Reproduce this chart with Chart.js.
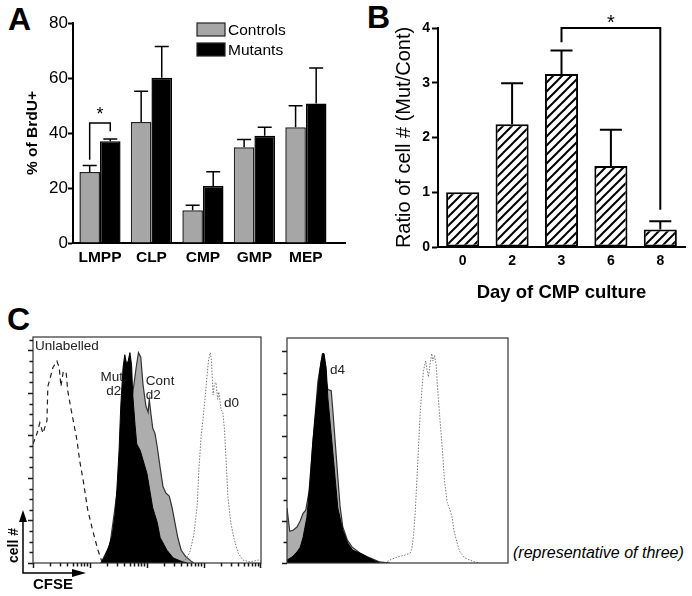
<!DOCTYPE html>
<html lang="en">
<head>
<meta charset="UTF-8">
<title>BrdU, CMP culture and CFSE</title>
<script src="https://cdn.jsdelivr.net/npm/chart.js@4.4.1/dist/chart.umd.min.js"></script>
<style>
  html, body { margin: 0; padding: 0; background: #fff; }
  body { width: 692px; height: 596px; position: relative; overflow: hidden;
         font-family: "Liberation Sans", Arial, Helvetica, sans-serif; color: #000; }
  canvas, .lbl { position: absolute; }
  .panel { font-size: 32px; line-height: 32px; font-weight: bold; }
  .note { font-size: 16px; line-height: 16px; font-style: italic; white-space: nowrap; }
</style>
</head>
<body>
<div class="lbl panel" style="left:8px;top:3px">A</div>
<div class="lbl panel" style="left:367px;top:1px">B</div>
<div class="lbl panel" style="left:7px;top:303px">C</div>
<div class="lbl note" style="left:513px;top:545px">(representative of three)</div>

<canvas id="chartA" width="350" height="280" style="left:0;top:0"></canvas>
<canvas id="chartB" width="342" height="310" style="left:350px;top:0"></canvas>
<canvas id="chartC1" width="268" height="266" style="left:0;top:330px"></canvas>
<canvas id="chartC2" width="236" height="240" style="left:280px;top:330px"></canvas>

<script>
// ---- A: % BrdU+ per progenitor population ----
const popLabels = ['LMPP', 'CLP', 'CMP', 'GMP', 'MEP'];
const brduControls = [25.8, 44.0, 11.9, 34.8, 42.1];
const brduControlsErr = [2.4, 11.2, 1.8, 2.8, 7.8];
const brduMutants = [37.0, 60.1, 20.7, 39.0, 50.7];
const brduMutantsErr = [0.8, 11.4, 5.2, 3.1, 12.9];
const brduTicks = [0, 20, 40, 60, 80];

// ---- B: Mut/Cont cell number ratio per culture day ----
const cultureDays = ['0', '2', '3', '6', '8'];
const cellRatio = [1.0, 2.24, 3.16, 1.48, 0.32];
const cellRatioErr = [0, 0.75, 0.43, 0.66, 0.15];

// ---- C: CFSE histograms, [log10 CFSE, % of max] ----
const unlabelled = [[0.00, 56], [0.07, 61], [0.12, 66], [0.175, 61], [0.245, 67], [0.26, 83], [0.30, 87],
  [0.35, 92], [0.42, 95], [0.46, 92], [0.49, 83], [0.53, 90], [0.58, 90], [0.61, 81], [0.67, 72],
  [0.72, 65], [0.77, 58], [0.82, 48], [0.88, 39], [0.96, 25], [1.05, 15], [1.14, 6], [1.21, 0.5], [1.30, 0]];
const mutD2 = [[1.19, 0], [1.25, 2.4], [1.32, 7], [1.39, 13], [1.44, 23], [1.47, 34], [1.51, 53], [1.54, 74],
  [1.58, 92], [1.61, 98], [1.64, 94], [1.67, 95], [1.70, 99], [1.73, 93], [1.75, 79], [1.79, 65], [1.82, 56],
  [1.88, 53], [1.93, 48.5], [2.00, 42], [2.05, 34], [2.10, 26], [2.18, 19], [2.23, 12], [2.35, 6], [2.46, 2.4],
  [2.58, 1], [2.70, 0]];
const contD2 = [[1.19, 0], [1.35, 8.5], [1.53, 44], [1.67, 67], [1.75, 80], [1.81, 92], [1.85, 99], [1.89, 97],
  [1.93, 84], [1.98, 74], [2.02, 71], [2.04, 77], [2.07, 70], [2.10, 63.5], [2.14, 61], [2.18, 54.6], [2.23, 45],
  [2.28, 36], [2.33, 33], [2.39, 31.5], [2.44, 26], [2.49, 19], [2.54, 12], [2.60, 6], [2.68, 3], [2.77, 1], [2.82, 0]];
const d0Left = [[2.58, 0], [2.67, 1.4], [2.75, 5], [2.82, 13], [2.88, 27], [2.91, 44], [2.95, 60], [2.98, 67],
  [3.02, 78], [3.05, 87], [3.08, 95.5], [3.11, 99], [3.13, 95.5], [3.16, 79], [3.18, 84], [3.21, 85], [3.24, 77],
  [3.26, 80.5], [3.30, 72], [3.33, 71], [3.36, 62.6], [3.39, 47], [3.42, 31], [3.47, 19], [3.53, 11], [3.60, 4.7],
  [3.68, 1.4], [3.81, 0.5], [3.95, 1.4], [4.00, 1]];
const mutD4 = [[0.00, 1.4], [0.09, 2.8], [0.18, 5.2], [0.24, 7.5], [0.29, 12], [0.36, 21.6], [0.42, 39], [0.47, 58],
  [0.54, 77], [0.60, 92], [0.64, 99], [0.67, 99], [0.71, 92], [0.74, 78], [0.81, 58], [0.87, 40.5], [0.92, 26],
  [1.01, 15.5], [1.10, 9.4], [1.19, 6], [1.32, 4.7], [1.45, 2.8], [1.56, 1.4], [1.68, 0]];
const contD4 = [[0.00, 26], [0.05, 15], [0.11, 15.5], [0.18, 17], [0.24, 20], [0.29, 23.5], [0.34, 25], [0.40, 34],
  [0.45, 51], [0.51, 70], [0.56, 86], [0.62, 95.5], [0.66, 98], [0.71, 86], [0.74, 82], [0.80, 81.4], [0.83, 72],
  [0.87, 58], [0.92, 40.5], [0.96, 27], [1.01, 17], [1.09, 11], [1.18, 7.5], [1.32, 4.7], [1.50, 2.4], [1.68, 0.5], [1.86, 0]];
const d0Right = [[1.77, 0], [1.86, 1.4], [1.99, 2.8], [2.14, 3.8], [2.23, 4.7], [2.26, 6.6], [2.29, 13], [2.32, 23.5],
  [2.35, 39], [2.38, 54.6], [2.41, 70.6], [2.44, 81.4], [2.47, 91], [2.51, 95.5], [2.53, 92], [2.56, 88], [2.59, 94],
  [2.62, 99], [2.64, 95.5], [2.67, 98], [2.70, 93.6], [2.72, 84.7], [2.76, 70.6], [2.81, 54.6], [2.85, 39], [2.90, 28.7],
  [2.95, 25], [2.99, 21.6], [3.02, 15.5], [3.08, 9.4], [3.13, 5.2], [3.22, 2.4], [3.31, 1.4], [3.40, 0.5], [3.49, 0]];
const cfseDecades = [1, 10, 100, 1000];   // log axis 1..10000, minor ticks 1..9 per decade
const countMax = 106.35;                   // count axis top (major ticks every 20)

const FONT = '"Liberation Sans", Arial, Helvetica, sans-serif';
Chart.defaults.font.family = FONT;
Chart.defaults.color = '#000';
Chart.defaults.animation = false;
Chart.defaults.responsive = false;
Chart.defaults.plugins.legend.display = false;
Chart.defaults.plugins.tooltip.enabled = false;

// log10 position -> CFSE value for the logarithmic axis
const toXY = arr => arr.map(([p, v]) => ({ x: Math.pow(10, p), y: v }));

// upper-only error bars, values in dataset.errors
const errorBars = {
  id: 'errorBars',
  afterDatasetsDraw(chart, args, o) {
    const { ctx, scales: { y } } = chart;
    ctx.save();
    ctx.strokeStyle = '#000';
    ctx.lineWidth = o.lineWidth || 1.5;
    chart.data.datasets.forEach((ds, di) => {
      if (!ds.errors) return;
      const meta = chart.getDatasetMeta(di);
      meta.data.forEach((bar, i) => {
        const e = ds.errors[i];
        if (!e) return;
        const v = meta.controller.getParsed(i).y;
        const yt = y.getPixelForValue(v + e);
        ctx.beginPath();
        ctx.moveTo(bar.x, bar.y);
        ctx.lineTo(bar.x, yt);
        ctx.moveTo(bar.x - o.cap / 2, yt);
        ctx.lineTo(bar.x + o.cap / 2, yt);
        ctx.stroke();
      });
    });
    ctx.restore();
  }
};

// significance bracket with a star
const sigBracket = {
  id: 'sigBracket',
  afterDatasetsDraw(chart, args, o) {
    if (!o.legs) return;
    const { ctx, scales: { y } } = chart;
    const xs = o.legs.map(l => chart.getDatasetMeta(l.dataset).data[l.index].x);
    const ys = o.legs.map(l => y.getPixelForValue(l.from));
    const yt = y.getPixelForValue(o.top);
    ctx.save();
    ctx.strokeStyle = '#000';
    ctx.lineWidth = o.lineWidth;
    ctx.beginPath();
    ctx.moveTo(xs[0], ys[0]);
    ctx.lineTo(xs[0], yt);
    ctx.lineTo(xs[1], yt);
    ctx.lineTo(xs[1], ys[1]);
    ctx.stroke();
    ctx.fillStyle = '#000';
    ctx.font = o.font;
    ctx.textAlign = 'center';
    ctx.textBaseline = 'middle';
    ctx.fillText('*', (xs[0] + xs[1]) / 2, y.getPixelForValue(o.star));
    ctx.restore();
  }
};

// boxed legend in the upper part of panel A
const boxLegend = {
  id: 'boxLegend',
  afterDraw(chart, args, o) {
    if (o.left == null) return;
    const ctx = chart.ctx;
    ctx.save();
    ctx.font = o.font;
    ctx.textBaseline = 'middle';
    ctx.textAlign = 'left';
    chart.data.datasets.forEach((ds, i) => {
      const top = o.top + i * o.rowGap;
      ctx.fillStyle = ds.backgroundColor;
      ctx.fillRect(o.left, top, o.boxWidth, o.boxHeight);
      ctx.strokeStyle = '#222';
      ctx.lineWidth = 1.2;
      ctx.strokeRect(o.left, top, o.boxWidth, o.boxHeight);
      ctx.fillStyle = '#000';
      ctx.fillText(ds.label, o.left + o.boxWidth + 3, top + o.boxHeight / 2 + 1);
    });
    ctx.restore();
  }
};

// frame round the histogram plot area, with outward tick combs
function histFrame(logTicks, countStep) {
  return {
    id: 'histFrame',
    afterDatasetsDraw(chart) {
      const { ctx, chartArea: a, scales: { x, y } } = chart;
      ctx.save();
      ctx.strokeStyle = '#333';
      ctx.lineWidth = 1.2;
      ctx.strokeRect(a.left, a.top, a.right - a.left, a.bottom - a.top);
      ctx.strokeStyle = '#1a1a1a';
      ctx.beginPath();
      if (logTicks) {
        cfseDecades.forEach(d => {
          for (let m = 1; m <= 9; m++) {
            const px = Math.round(x.getPixelForValue(m * d)) + 0.5;
            ctx.moveTo(px, a.bottom);
            ctx.lineTo(px, a.bottom + (m === 1 ? 5 : 3.5));
          }
        });
        const end = Math.round(x.getPixelForValue(10000)) - 0.5;
        ctx.moveTo(end, a.bottom);
        ctx.lineTo(end, a.bottom + 5);
      }
      for (let v = 0; v <= countMax; v += countStep) {
        const py = Math.round(y.getPixelForValue(v)) + 0.5;
        ctx.moveTo(a.left, py);
        ctx.lineTo(a.left - (v % 20 === 0 ? 5 : 3.5), py);
      }
      ctx.lineWidth = 1.5;
      ctx.stroke();
      ctx.restore();
    }
  };
}

// text labels next to histogram peaks, positioned in data units
const peakNotes = {
  id: 'peakNotes',
  afterDatasetsDraw(chart, args, o) {
    if (!o.items) return;
    const { ctx, scales: { x, y } } = chart;
    ctx.save();
    ctx.fillStyle = '#222';
    ctx.font = o.font;
    ctx.textBaseline = 'middle';
    o.items.forEach(n => {
      ctx.textAlign = n.align || 'left';
      ctx.fillText(n.text, x.getPixelForValue(Math.pow(10, n.p)), y.getPixelForValue(n.v));
    });
    ctx.restore();
  }
};

// the little "cell # / CFSE" axis arrows
const axisArrows = {
  id: 'axisArrows',
  afterDraw(chart, args, o) {
    if (!o.len) return;
    const { ctx, chartArea: a } = chart;
    const x0 = a.left - o.gap, y0 = a.bottom + o.gap;
    ctx.save();
    ctx.strokeStyle = '#000';
    ctx.fillStyle = '#000';
    ctx.lineWidth = 1.5;
    ctx.beginPath();
    ctx.moveTo(x0, y0 - o.len + 8);
    ctx.lineTo(x0, y0);
    ctx.lineTo(x0 + o.len - 8, y0);
    ctx.stroke();
    ctx.beginPath();
    ctx.moveTo(x0, y0 - o.len);
    ctx.lineTo(x0 - 4, y0 - o.len + 12);
    ctx.lineTo(x0 + 4, y0 - o.len + 12);
    ctx.closePath();
    ctx.fill();
    ctx.beginPath();
    ctx.moveTo(x0 + o.len, y0);
    ctx.lineTo(x0 + o.len - 14, y0 - 4);
    ctx.lineTo(x0 + o.len - 14, y0 + 4);
    ctx.closePath();
    ctx.fill();
    ctx.restore();
  }
};

function hatchPattern(ctx) {
  const s = 9;
  const c = document.createElement('canvas');
  c.width = c.height = s;
  const g = c.getContext('2d');
  g.fillStyle = '#fff';
  g.fillRect(0, 0, s, s);
  g.strokeStyle = '#000';
  g.lineWidth = 2;
  g.beginPath();
  g.moveTo(0, s); g.lineTo(s, 0);
  g.moveTo(-1, 1); g.lineTo(1, -1);
  g.moveTo(s - 1, s + 1); g.lineTo(s + 1, s - 1);
  g.stroke();
  return ctx.createPattern(c, 'repeat');
}

// ---------------- A ----------------
new Chart(document.getElementById('chartA'), {
  type: 'bar',
  data: {
    datasets: [
      { label: 'Controls', data: brduControls.map((v, i) => ({ x: i, y: v })), errors: brduControlsErr,
        backgroundColor: '#a6a6a6', borderColor: '#222', borderWidth: 1.5 },
      { label: 'Mutants', data: brduMutants.map((v, i) => ({ x: i, y: v })), errors: brduMutantsErr,
        backgroundColor: '#000', borderColor: '#000', borderWidth: 1.5 }
    ]
  },
  options: {
    layout: { padding: { top: 23, right: 5, left: 0, bottom: 0 } },
    datasets: { bar: { categoryPercentage: 0.8, barPercentage: 1 } },
    scales: {
      x: {
        type: 'linear', min: -0.524, max: 4.76, offset: false,
        afterBuildTicks: s => { s.ticks = popLabels.map((_, i) => ({ value: i })); },
        afterFit: s => { s.height = 37; },
        grid: { display: false, drawTicks: false },
        border: { color: '#000', width: 2 },
        ticks: { callback: v => popLabels[v], font: { size: 15.5, weight: 'bold' }, padding: 5, maxRotation: 0 }
      },
      y: {
        min: 0, max: 80,
        afterBuildTicks: s => { s.ticks = brduTicks.map(v => ({ value: v })); },
        afterFit: s => { s.width = 73; },
        grid: { drawOnChartArea: false, tickLength: 5, tickWidth: 2, tickColor: '#000' },
        border: { color: '#000', width: 2 },
        ticks: { font: { size: 17 }, padding: 0 },
        title: { display: true, text: '% of BrdU+', font: { size: 15.5, weight: 'bold' }, padding: { top: 23 } }
      }
    },
    plugins: {
      errorBars: { cap: 14, lineWidth: 1.5 },
      sigBracket: { legs: [{ dataset: 0, index: 0, from: 30.3 }, { dataset: 1, index: 0, from: 40.6 }],
                    top: 43.6, star: 46.5, lineWidth: 1.5, font: '18px ' + FONT },
      boxLegend: { left: 197, top: 23, boxWidth: 28, boxHeight: 13, rowGap: 20, font: '15.5px ' + FONT }
    }
  },
  plugins: [errorBars, sigBracket, boxLegend]
});

// ---------------- B ----------------
const canvasB = document.getElementById('chartB');
new Chart(canvasB, {
  type: 'bar',
  data: {
    labels: cultureDays,
    datasets: [
      { label: 'Mut/Cont', data: cellRatio, errors: cellRatioErr,
        backgroundColor: hatchPattern(canvasB.getContext('2d')), borderColor: '#000', borderWidth: 2,
        borderSkipped: false }
    ]
  },
  options: {
    layout: { padding: { top: 28, right: 7, left: 0, bottom: 0 } },
    datasets: { bar: { categoryPercentage: 1, barPercentage: 0.67 } },
    scales: {
      x: {
        afterFit: s => { s.height = 63; },
        grid: { display: false, drawTicks: false },
        border: { color: '#000', width: 2 },
        ticks: { font: { size: 14, weight: 'bold' }, padding: 6 },
        title: { display: true, text: 'Day of CMP culture', font: { size: 18.5, weight: 'bold' }, padding: { bottom: 6 } }
      },
      y: {
        min: 0, max: 4,
        afterFit: s => { s.width = 88; },
        grid: { drawOnChartArea: false, tickLength: 6, tickWidth: 2, tickColor: '#000' },
        border: { color: '#000', width: 2 },
        ticks: { stepSize: 1, font: { size: 14, weight: 'bold' }, padding: 2 },
        title: { display: true, text: 'Ratio of cell # (Mut/Cont)', font: { size: 20 }, padding: { top: 42 } }
      }
    },
    plugins: {
      errorBars: { cap: 22, lineWidth: 2 },
      sigBracket: { legs: [{ dataset: 0, index: 2, from: 3.74 }, { dataset: 0, index: 4, from: 0.68 }],
                    top: 4.0, star: 4.08, lineWidth: 2, font: '20px ' + FONT }
    }
  },
  plugins: [errorBars, sigBracket]
});

// ---------------- C (left: day 2) ----------------
const histBase = {
  elements: { point: { radius: 0 }, line: { tension: 0 } }
};
new Chart(document.getElementById('chartC1'), {
  type: 'line',
  data: {
    datasets: [
      { label: 'd0', data: toXY(d0Left), fill: false, borderColor: '#777', borderDash: [1.5, 1.5], borderWidth: 1, order: 0 },
      { label: 'Mut d2', data: toXY(mutD2), fill: 'origin', backgroundColor: '#000', borderColor: '#000', borderWidth: 1, order: 1 },
      { label: 'Cont d2', data: toXY(contD2), fill: 'origin', backgroundColor: '#adadad', borderColor: '#333', borderWidth: 1.2, order: 2 },
      { label: 'Unlabelled', data: toXY(unlabelled), fill: false, borderColor: '#222', borderDash: [5, 4], borderWidth: 1.2, order: 3 }
    ]
  },
  options: {
    ...histBase,
    layout: { padding: { top: 7, right: 7, left: 0, bottom: 0 } },
    scales: {
      x: {
        type: 'logarithmic', min: 1, max: 10000,
        afterFit: s => { s.height = 33; },
        ticks: { display: false },
        grid: { display: false },
        border: { display: false },
        title: { display: true, text: 'CFSE', align: 'start', font: { size: 15, weight: 'bold' }, padding: { bottom: 2 } }
      },
      y: {
        min: 0, max: countMax,
        afterFit: s => { s.width = 33; },
        ticks: { display: false },
        grid: { display: false },
        border: { display: false },
        title: { display: true, text: 'cell #', align: 'start', font: { size: 14, weight: 'bold' }, padding: { top: 5.6 } }
      }
    },
    plugins: {
      peakNotes: {
        font: '13.5px ' + FONT,
        items: [
          { text: 'Unlabelled', p: 0.035, v: 102 },
          { text: 'Mut', p: 1.58, v: 87.5, align: 'right' },
          { text: 'd2', p: 1.55, v: 81, align: 'right' },
          { text: 'Cont', p: 1.98, v: 85.6 },
          { text: 'd2', p: 1.98, v: 79 },
          { text: 'd0', p: 3.35, v: 75 }
        ]
      },
      axisArrows: { gap: 10, len: 63 }
    }
  },
  plugins: [histFrame(true, 5), peakNotes, axisArrows]
});

// ---------------- C (right: day 4) ----------------
new Chart(document.getElementById('chartC2'), {
  type: 'line',
  data: {
    datasets: [
      { label: 'd0', data: toXY(d0Right), fill: false, borderColor: '#777', borderDash: [1.5, 1.5], borderWidth: 1, order: 0 },
      { label: 'Mut d4', data: toXY(mutD4), fill: 'origin', backgroundColor: '#000', borderColor: '#000', borderWidth: 1, order: 1 },
      { label: 'Cont d4', data: toXY(contD4), fill: 'origin', backgroundColor: '#adadad', borderColor: '#333', borderWidth: 1.2, order: 2 }
    ]
  },
  options: {
    ...histBase,
    layout: { padding: { top: 8, right: 8, left: 0, bottom: 0 } },
    scales: {
      x: {
        type: 'logarithmic', min: 1, max: 10000,
        afterFit: s => { s.height = 7; },
        ticks: { display: false },
        grid: { display: false },
        border: { display: false }
      },
      y: {
        min: 0, max: countMax,
        afterFit: s => { s.width = 7; },
        ticks: { display: false },
        grid: { display: false },
        border: { display: false }
      }
    },
    plugins: {
      peakNotes: { font: '13.5px ' + FONT, items: [{ text: 'd4', p: 0.78, v: 91 }] }
    }
  },
  plugins: [histFrame(false, 10), peakNotes]
});
</script>
</body>
</html>
